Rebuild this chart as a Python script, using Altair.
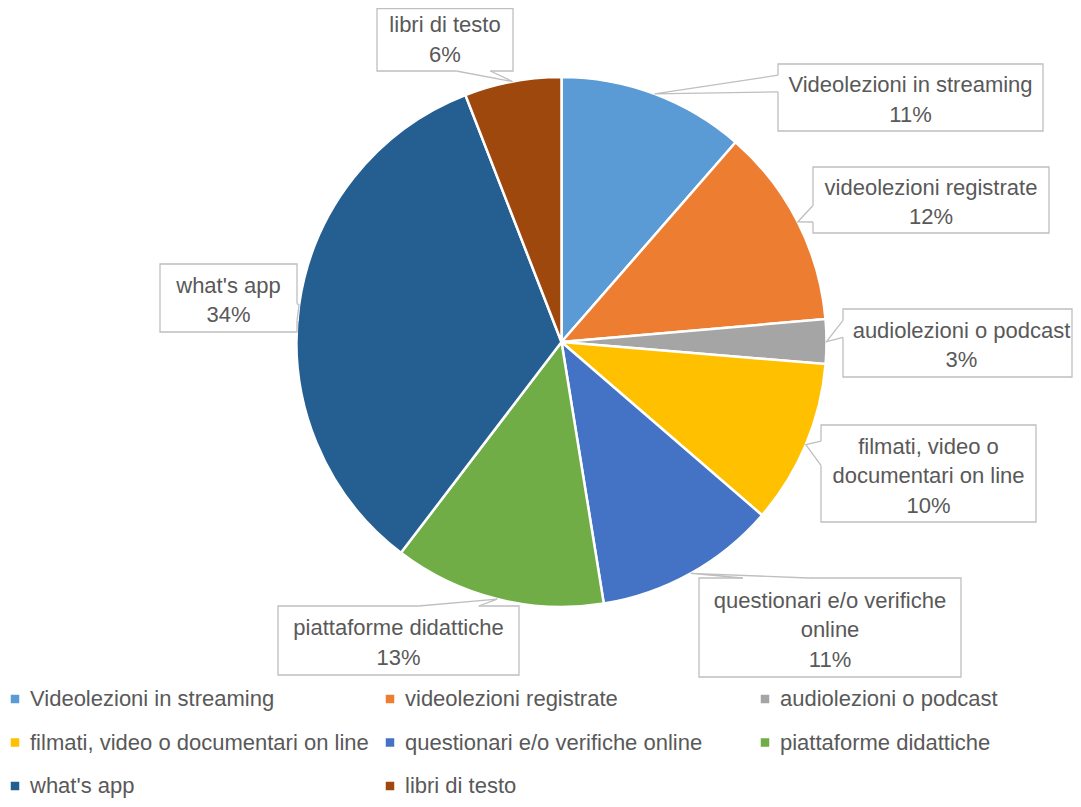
import math
import altair as alt
import pandas as pd

# ---- data ----
categories = [
    "Videolezioni in streaming",
    "videolezioni registrate",
    "audiolezioni o podcast",
    "filmati, video o documentari on line",
    "questionari e/o verifiche online",
    "piattaforme didattiche",
    "what's app",
    "libri di testo",
]
values = [11.4, 12.2, 2.7, 10.0, 11.1, 12.9, 33.7, 5.9]
callout_names = [
    "Videolezioni in streaming",
    "videolezioni registrate",
    "audiolezioni o podcast",
    "filmati, video o\ndocumentari on line",
    "questionari e/o verifiche\nonline",
    "piattaforme didattiche",
    "what's app",
    "libri di testo",
]
colors = ["#5B9BD5", "#ED7D31", "#A5A5A5", "#FFC000", "#4472C4", "#70AD47", "#255E91", "#9E480E"]

# ---- layout (chart pixel coords) ----
W, H = 1065, 791
CX, CY, R = 553.5, 334.0, 265.0
boxes = [  # left, top, width, height
    (770, 56, 265, 67),
    (805, 159, 236, 66),
    (835, 301, 237, 68),
    (813, 417, 215, 97),
    (691, 570, 262, 99),
    (270, 598, 241, 69),
    (152, 256, 137, 68),
    (369, -4, 136, 67),
]
FONT = "Liberation Sans"
FS = 22
LH = 29.5
TXT = "#595959"
GRID = "#BFBFBF"

total = sum(values)
pie_df = pd.DataFrame({"cat": categories, "val": values, "idx": list(range(len(values)))})

rect_rows, text_rows, wedge_rows, cover_rows = [], [], [], []
cum = 0.0
for i, (cat, v) in enumerate(zip(categories, values)):
    mid = (cum + v / 2) / total * 2 * math.pi
    cum += v
    tx = CX + R * math.sin(mid)
    ty = CY - R * math.cos(mid)
    l, t, w, h = boxes[i]
    hc, vc = l + w / 2, t + h / 2
    dx, dy = tx - hc, ty - vc
    dq = dx * h / w
    dz = abs(dy) - abs(dq)
    if dz > 0:
        g1, g2 = (7, 10) if dx > 0 else (2, 5)
        ax, bx = l + w * g1 / 12, l + w * g2 / 12
        ey = t if dy < 0 else t + h
        A, B = (ax, ey), (bx, ey)
    else:
        g1, g2 = (7, 10) if dy > 0 else (2, 5)
        ay, by = t + h * g1 / 12, t + h * g2 / 12
        ex = l if dx < 0 else l + w
        A, B = (ex, ay), (ex, by)
    pct = round(v / total * 100)
    rect_rows.append({"x": l, "x2": min(l + w, W - 1), "y": max(t, 0.5), "y2": t + h})
    lines = callout_names[i].split("\n") + [f"{pct}%"]
    n = len(lines)
    y0 = vc + 9.5 - (n - 1) * LH / 2
    for k, s in enumerate(lines):
        text_rows.append({"x": hc, "y": y0 + k * LH, "t": s})
    for o, p in enumerate([A, (tx, ty), B]):
        wedge_rows.append({"k": cat, "o": o, "x": p[0], "y": p[1]})
    cover_rows.append({"x": A[0], "y": A[1], "x2": B[0], "y2": B[1]})

leg_rows = []
for i, cat in enumerate(categories):
    col, row = i % 3, i // 3
    yb = 698 + row * 43.5
    leg_rows.append({"cat": cat, "sx": 7 + col * 375, "tx": 22 + col * 375, "y": yb, "sy": yb - 7})

xs = alt.Scale(domain=[0, W], nice=False, zero=False)
ys = alt.Scale(domain=[0, H], nice=False, zero=False, reverse=True)
cscale = alt.Scale(domain=categories, range=colors)

pie = alt.Chart(pie_df).mark_arc(radius=R, stroke="white", strokeWidth=2.5).encode(
    theta=alt.Theta("val:Q", stack=True),
    order=alt.Order("idx:Q"),
    color=alt.Color("cat:N", scale=cscale, legend=None),
    x=alt.value(CX),
    y=alt.value(CY),
)

rects = alt.Chart(pd.DataFrame(rect_rows)).mark_rect(fill="white", stroke=GRID, strokeWidth=1.3).encode(
    x=alt.X("x:Q", scale=xs, axis=None), x2="x2:Q",
    y=alt.Y("y:Q", scale=ys, axis=None), y2="y2:Q",
)
cover = alt.Chart(pd.DataFrame(cover_rows)).mark_rule(stroke="white", strokeWidth=3).encode(
    x=alt.X("x:Q", scale=xs, axis=None), x2="x2:Q",
    y=alt.Y("y:Q", scale=ys, axis=None), y2="y2:Q",
)
wedges = alt.Chart(pd.DataFrame(wedge_rows)).mark_line(stroke=GRID, strokeWidth=1.3).encode(
    x=alt.X("x:Q", scale=xs, axis=None),
    y=alt.Y("y:Q", scale=ys, axis=None),
    detail="k:N",
    order="o:Q",
)
texts = alt.Chart(pd.DataFrame(text_rows)).mark_text(
    font=FONT, fontSize=FS, color=TXT, align="center", baseline="alphabetic"
).encode(
    x=alt.X("x:Q", scale=xs, axis=None),
    y=alt.Y("y:Q", scale=ys, axis=None),
    text="t:N",
)

leg_df = pd.DataFrame(leg_rows)
leg_sym = alt.Chart(leg_df).mark_square(size=72, opacity=1).encode(
    x=alt.X("sx:Q", scale=xs, axis=None),
    y=alt.Y("sy:Q", scale=ys, axis=None),
    color=alt.Color("cat:N", scale=cscale, legend=None),
)
leg_txt = alt.Chart(leg_df).mark_text(
    font=FONT, fontSize=FS, color=TXT, align="left", baseline="alphabetic"
).encode(
    x=alt.X("tx:Q", scale=xs, axis=None),
    y=alt.Y("y:Q", scale=ys, axis=None),
    text="cat:N",
)

chart = alt.layer(pie, rects, cover, wedges, texts, leg_sym, leg_txt).properties(
    width=W, height=H, padding=0, autosize=alt.AutoSizeParams(type="none")
).configure_view(stroke=None)

chart.save("out.html", embed_options={"renderer": "svg", "actions": False})
